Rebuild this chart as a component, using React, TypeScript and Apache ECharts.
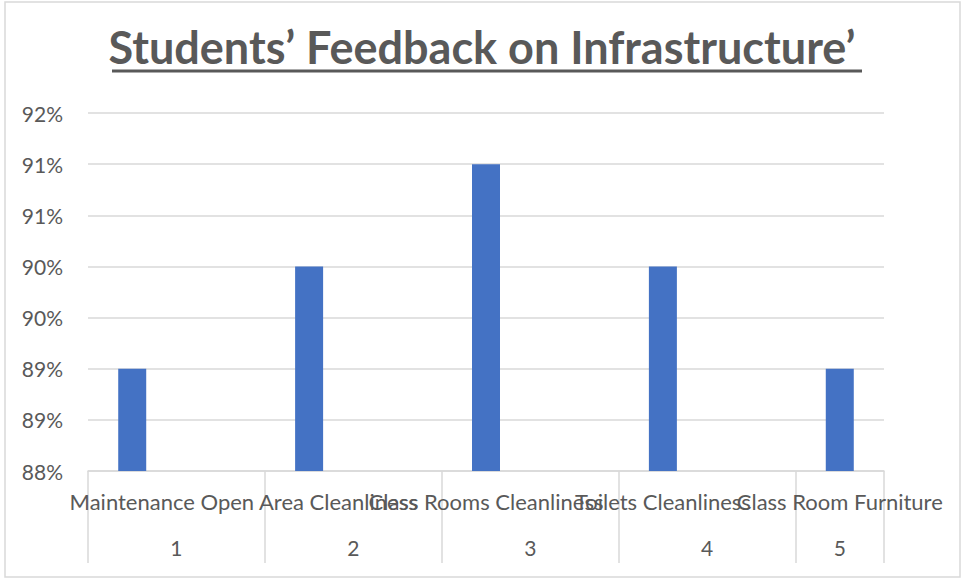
import React, { useEffect, useRef } from "react";
import * as echarts from "echarts";

const titleText = "Students’ Feedback on Infrastructure’";
const categories = [
  "Maintenance",
  "Open Area Cleanliness",
  "Class Rooms Cleanliness",
  "Toilets Cleanliness",
  "Class Room Furniture",
];
const groupNumbers = ["1", "2", "3", "4", "5"];
const values = [89, 90, 91, 90, 89];
const yMin = 88;
const yMax = 91.5;
const yStep = 0.5;

const FONT = "Lato, 'Noto Sans', sans-serif";
const GRAY = "#595959";
const LINE = "#d9d9d9";

export default function App() {
  const ref = useRef<HTMLDivElement>(null);
  useEffect(() => {
    document.body.style.margin = "0";
    const chart = echarts.init(ref.current!, null, { renderer: "svg" });
    const xMin = -0.25;
    const xMax = categories.length - 0.75;
    const boundaries = [xMin, ...categories.map((_, i) => Math.min(i + 0.75, xMax))];
    const centers = categories.map((_, i) => (Math.max(i - 0.25, xMin) + Math.min(i + 0.75, xMax)) / 2);
    const idx = categories.map((_, i) => i);
    const nameLabel = (vals: number[]) => ({
      customValues: vals,
      formatter: (v: number) => categories[Math.round(v)] ?? "",
      showMinLabel: true,
      showMaxLabel: true,
      hideOverlap: false,
      margin: 19,
      fontFamily: FONT,
      fontSize: 22,
      color: GRAY,
    });
    const hiddenAxis = {
      type: "value",
      min: xMin,
      max: xMax,
      position: "bottom",
      splitLine: { show: false },
      axisLine: { show: false },
      axisTick: { show: false },
    };
    chart.setOption({
      animation: false,
      title: {
        text: titleText,
        left: "center",
        top: 19,
        textStyle: { fontFamily: FONT, fontSize: 45, fontWeight: "bold", color: GRAY },
      },
      graphic: [
        { type: "rect", shape: { x: 5, y: 2, width: 955, height: 575 }, style: { fill: "none", stroke: LINE, lineWidth: 1.5 } },
        { type: "line", shape: { x1: 112, y1: 71, x2: 862, y2: 71 }, style: { stroke: GRAY, lineWidth: 3 } },
      ],
      grid: { left: 88, right: 80, top: 113, bottom: 110 },
      xAxis: [
        {
          type: "value",
          min: xMin,
          max: xMax,
          splitLine: { show: false },
          axisLine: { show: true, lineStyle: { color: LINE, width: 1.5 } },
          axisTick: { show: true, customValues: boundaries, length: 92, lineStyle: { color: LINE, width: 1.5 } },
          axisLabel: nameLabel(idx.filter((i) => i % 2 === 0)),
        },
        {
          ...hiddenAxis,
          axisLabel: nameLabel(idx.filter((i) => i % 2 === 1)),
        },
        {
          ...hiddenAxis,
          axisLabel: {
            customValues: centers,
            formatter: (v: number) => groupNumbers[Math.floor(v + 0.25)] ?? "",
            showMinLabel: true,
            showMaxLabel: true,
            margin: 66,
            fontFamily: FONT,
            fontSize: 21,
            color: GRAY,
          },
        },
      ],
      yAxis: {
        type: "value",
        min: yMin,
        max: yMax,
        interval: yStep,
        axisLine: { show: false },
        axisTick: { show: false },
        splitLine: { lineStyle: { color: LINE, width: 1.5 } },
        axisLabel: {
          formatter: (v: number) => Math.round(v) + "%",
          showMinLabel: true,
          showMaxLabel: true,
          margin: 25,
          fontFamily: FONT,
          fontSize: 21,
          color: GRAY,
        },
      },
      series: [
        {
          type: "bar",
          xAxisIndex: 0,
          barWidth: 28,
          itemStyle: { color: "#4472C4" },
          data: values.map((v, i) => [i, v]),
        },
      ],
    });
    return () => chart.dispose();
  }, []);
  return <div ref={ref} style={{ width: 964, height: 581 }} />;
}
